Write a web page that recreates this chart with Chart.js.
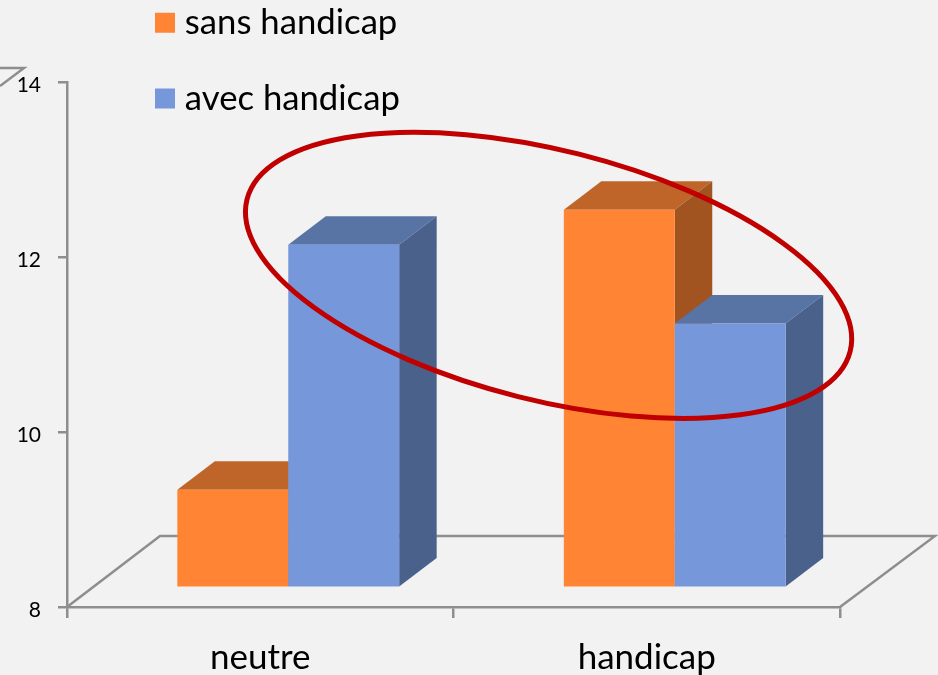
<!DOCTYPE html>
<html><head><meta charset="utf-8">
<style>html,body{margin:0;padding:0;background:#f2f2f2}#w{width:938px;height:675px;position:relative}canvas{display:block}</style>
<script src="https://cdn.jsdelivr.net/npm/chart.js@4"></script>
</head><body><div id="w"><canvas id="c" width="938" height="675"></canvas></div>
<script>
const categories = ["neutre", "handicap"];
const seriesNames = ["sans handicap", "avec handicap"];
const sansHandicap = [9.1, 12.3];
const avecHandicap = [11.9, 11.0];
const yTicks = [8, 10, 12, 14];
const barBase = 7.995;
const frontColors = ["#FF8535", "#7698DA"];
const topColors = ["#C0652A", "#5874A5"];
const sideColors = ["#A25420", "#4A618C"];
const axisColor = "#8E8E8E";
const FONT = "Lato";
// ellipse annotation: centre in data space, radii in pixels
const highlight = {cat: 0.746, val: 11.79, rx: 311, ry: 125, deg: 14.15};
const depth = {dx: 37.5, dy: -28.5};
const shift = {dx: 28, dy: -21};
const floorDepth = {dx: 93, dy: -71};

function drawBox(ctx, b, i) {
  const L = b.x - b.width / 2, R = b.x + b.width / 2, T = b.y, B = b.base;
  ctx.fillStyle = topColors[i];
  ctx.beginPath();
  ctx.moveTo(L, T); ctx.lineTo(L + depth.dx, T + depth.dy);
  ctx.lineTo(R + depth.dx, T + depth.dy); ctx.lineTo(R, T);
  ctx.closePath(); ctx.fill();
  ctx.fillStyle = sideColors[i];
  ctx.beginPath();
  ctx.moveTo(R, T); ctx.lineTo(R + depth.dx, T + depth.dy);
  ctx.lineTo(R + depth.dx, B + depth.dy); ctx.lineTo(R, B);
  ctx.closePath(); ctx.fill();
  b.draw(ctx);
}

const threeD = {
  id: "threeD",
  afterLayout(chart) {
    const l = chart.legend;
    l.left = 121.5; l.right = 500; l.top = -35.5; l.bottom = 400;
    l.adjustHitBoxes();
  },
  beforeDatasetsDraw(chart) {
    const {ctx, chartArea: a} = chart;
    ctx.save();
    ctx.strokeStyle = axisColor; ctx.lineWidth = 2.5;
    ctx.beginPath();
    ctx.moveTo(a.left, a.bottom);
    ctx.lineTo(a.left + floorDepth.dx, a.bottom + floorDepth.dy);
    ctx.lineTo(a.right + floorDepth.dx + 2, a.bottom + floorDepth.dy);
    ctx.lineTo(a.right, a.bottom);
    ctx.stroke();
    // top of the back wall, cut by the picture's edge
    ctx.beginPath();
    ctx.moveTo(0, a.top - 14);
    ctx.lineTo(24, a.top - 14);
    ctx.lineTo(0, a.top + 4);
    ctx.stroke();
    ctx.restore();
    // left to right, so that each box hides the side of the one before it
    ctx.save();
    ctx.translate(shift.dx, shift.dy);
    chart.data.datasets.forEach((d, i) => {
      chart.getDatasetMeta(i).data.forEach(b => drawBox(ctx, b, i));
    });
    ctx.restore();
  },
  beforeDatasetDraw() { return false; },
  afterDraw(chart) {
    const {ctx, scales} = chart;
    const x0 = scales.x.getPixelForValue(0), x1 = scales.x.getPixelForValue(1);
    ctx.save();
    ctx.strokeStyle = "#C00000"; ctx.lineWidth = 5;
    ctx.beginPath();
    ctx.ellipse(x0 + (x1 - x0) * highlight.cat, scales.y.getPixelForValue(highlight.val),
      highlight.rx, highlight.ry, highlight.deg * Math.PI / 180, 0, Math.PI * 2);
    ctx.stroke();
    ctx.restore();
  }
};

new Chart(document.getElementById("c"), {
  type: "bar",
  data: {
    labels: categories,
    datasets: [
      {label: seriesNames[0], data: sansHandicap, backgroundColor: frontColors[0], base: barBase},
      {label: seriesNames[1], data: avecHandicap, backgroundColor: frontColors[1], base: barBase}
    ]
  },
  plugins: [threeD],
  options: {
    responsive: false, animation: false,
    devicePixelRatio: 1,
    layout: {padding: {top: 82, right: 98, left: 0, bottom: 0}},
    categoryPercentage: 0.574, barPercentage: 1,
    plugins: {
      tooltip: {enabled: false},
      legend: {
        position: "chartArea", align: "start",
        labels: {
          boxWidth: 5, boxHeight: 5, padding: 41, color: "#000",
          font: {family: FONT, size: 34.7},
          generateLabels: c => c.data.datasets.map((d, i) => ({
            text: d.label, fillStyle: d.backgroundColor, strokeStyle: d.backgroundColor,
            lineWidth: 15, datasetIndex: i, hidden: false
          }))
        }
      }
    },
    scales: {
      x: {
        afterFit(s) { s.height = 68; },
        border: {color: axisColor, width: 2.5},
        grid: {drawOnChartArea: false, drawTicks: true, tickLength: 11, color: axisColor, lineWidth: 2.5},
        ticks: {color: "#000", font: {family: FONT, size: 35}, padding: 19, maxRotation: 0}
      },
      y: {
        min: 8, max: 14,
        afterFit(s) { s.width = 67; },
        afterBuildTicks(s) { s.ticks = yTicks.map(v => ({value: v})); },
        border: {color: axisColor, width: 2.5},
        grid: {drawOnChartArea: false, drawTicks: true, tickLength: 9, color: axisColor, lineWidth: 2.5},
        ticks: {color: "#000", font: {family: FONT, size: 21}, padding: 17, labelOffset: 3}
      }
    }
  }
});
</script></body></html>
